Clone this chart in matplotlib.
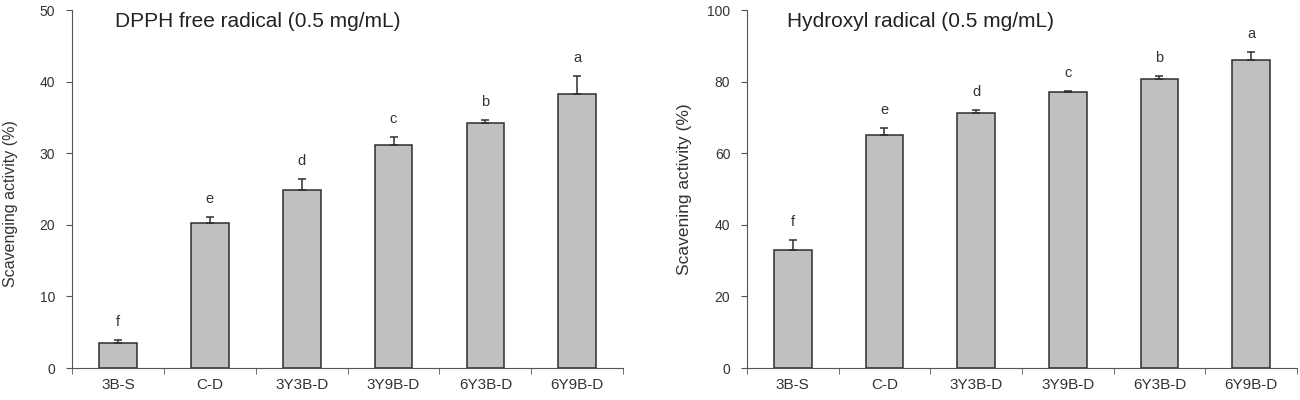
import matplotlib.pyplot as plt
import numpy as np

plt.rcParams['font.family'] = ['Liberation Sans', 'DejaVu Sans']

samples = ['3B-S', 'C-D', '3Y3B-D', '3Y9B-D', '6Y3B-D', '6Y9B-D']
letters = ['f', 'e', 'd', 'c', 'b', 'a']

# DPPH free radical scavenging (%)
dpph = [3.5, 20.3, 24.9, 31.2, 34.2, 38.2]
dpph_err = [0.4, 0.8, 1.5, 1.1, 0.4, 2.6]

# hydroxyl radical scavenging (%)
hydroxyl = [33.1, 65.0, 71.3, 77.0, 80.8, 86.1]
hydroxyl_err = [2.6, 2.1, 0.7, 0.5, 0.9, 2.1]

txt = '#333333'
fig = plt.figure(figsize=(13, 4), dpi=100)
ax1 = fig.add_axes([0.0554, 0.08, 0.424, 0.895])
ax2 = fig.add_axes([0.5746, 0.08, 0.423, 0.895])

panels = [
    (ax1, dpph, dpph_err, 50, 10, 'DPPH free radical (0.5 mg/mL)', 'Scavenging activity (%)',
     0.078, (-0.098, 0.46), 11.5),
    (ax2, hydroxyl, hydroxyl_err, 100, 20, 'Hydroxyl radical (0.5 mg/mL)', 'Scavening activity (%)',
     0.073, (-0.1, 0.5), 12.5),
]

x = np.arange(len(samples))
for ax, vals, errs, ymax, step, title, ylab, tx, lab_xy, lab_fs in panels:
    ax.bar(x, vals, width=0.41, color='#c0c0c0', edgecolor='#2e2e2e', linewidth=1.1, zorder=2)
    ax.errorbar(x, vals, yerr=[np.zeros(len(errs)), errs], fmt='none',
                ecolor='#2e2e2e', elinewidth=1.1, capsize=3, capthick=1.1, zorder=3)
    for xi, v, e, lt in zip(x, vals, errs, letters):
        ax.text(xi, v + e + ymax * 0.05, lt, ha='center', va='center', fontsize=10.5, color=txt)
    ax.set_xlim(-0.5, len(samples) - 0.5)
    ax.set_ylim(0, ymax)
    ax.set_yticks(np.arange(0, ymax + 1, step))
    ax.set_xticks(x)
    ax.set_xticklabels(samples)
    ax.set_xticks(np.arange(-0.5, len(samples)), minor=True)
    ax.tick_params(axis='x', which='major', length=0, labelsize=11, colors=txt, pad=7)
    ax.tick_params(axis='x', which='minor', length=4, direction='out', color='#555555')
    ax.tick_params(axis='y', length=4, direction='out', labelsize=10, colors=txt, color='#555555', pad=8)
    for s in ['top', 'right']:
        ax.spines[s].set_visible(False)
    for s in ['left', 'bottom']:
        ax.spines[s].set_color('#555555')
    ax.set_ylabel(ylab, fontsize=lab_fs, color=txt)
    ax.yaxis.set_label_coords(*lab_xy)
    ax.text(tx, 0.995, title, transform=ax.transAxes, ha='left', va='top', fontsize=15, color='#222222')

fig.savefig('out.png', dpi=100)
